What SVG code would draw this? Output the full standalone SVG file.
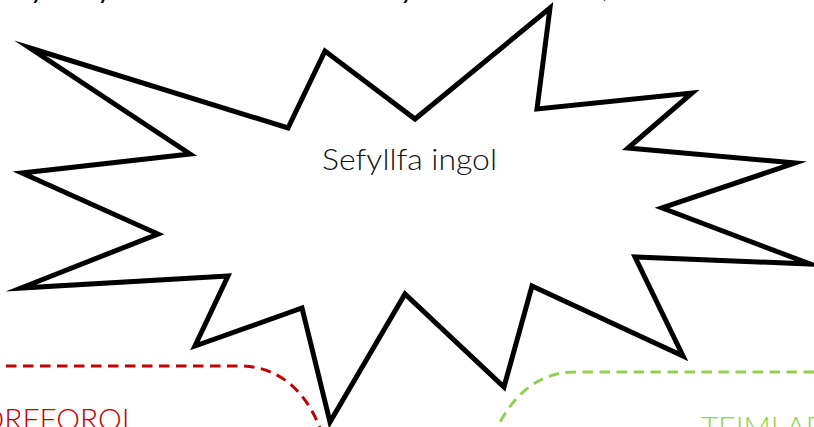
<svg xmlns="http://www.w3.org/2000/svg" width="814" height="427" viewBox="0 0 814 427">
<style>
.t{font-family:"Lato","Liberation Sans",sans-serif;font-weight:300}
.top{font-family:"Lato","Liberation Sans",sans-serif;font-size:28px;font-style:italic;fill:#000}
.d{fill:none;stroke-width:3;stroke-dasharray:10.5 6.5}
</style>
<rect width="814" height="427" fill="#fff"/>
<g id="top-text">
<text class="top" x="32" y="-2">y</text>
<text class="top" x="99" y="-2">y</text>
<text class="top" x="402" y="-2">y</text>
<text class="top" x="603" y="-3">,</text>
</g>
<g id="burst">
<polygon points="30,48 288,128 325,51 415,119 550,8 537,109 692,93 628,148 795,163 662,208 810,264 635,257 683,356 532,286 504,387 405,294 330,422 302,308 195,346 228,276 21,288 158,234 22,173 190,154" fill="#fff" stroke="#000" stroke-width="5" stroke-miterlimit="20"/>
<text class="t" x="322" y="170" font-size="29" fill="#111" textLength="175" lengthAdjust="spacingAndGlyphs">Sefyllfa ingol</text>
</g>
<g id="corfforol">
<path class="d" stroke="#c00000" d="M6 366H240C278 366 305 390 320 428"/>
<text class="t" x="137" y="430" text-anchor="end" font-size="30" fill="#c00000">CORFFOROL</text>
</g>
<g id="teimladol">
<path class="d" stroke="#92d050" d="M814 372H575C537 372 512 397 497 428"/>
<text class="t" x="701" y="438" font-size="30" fill="#92d050">TEIMLADOL</text>
</g>
</svg>
